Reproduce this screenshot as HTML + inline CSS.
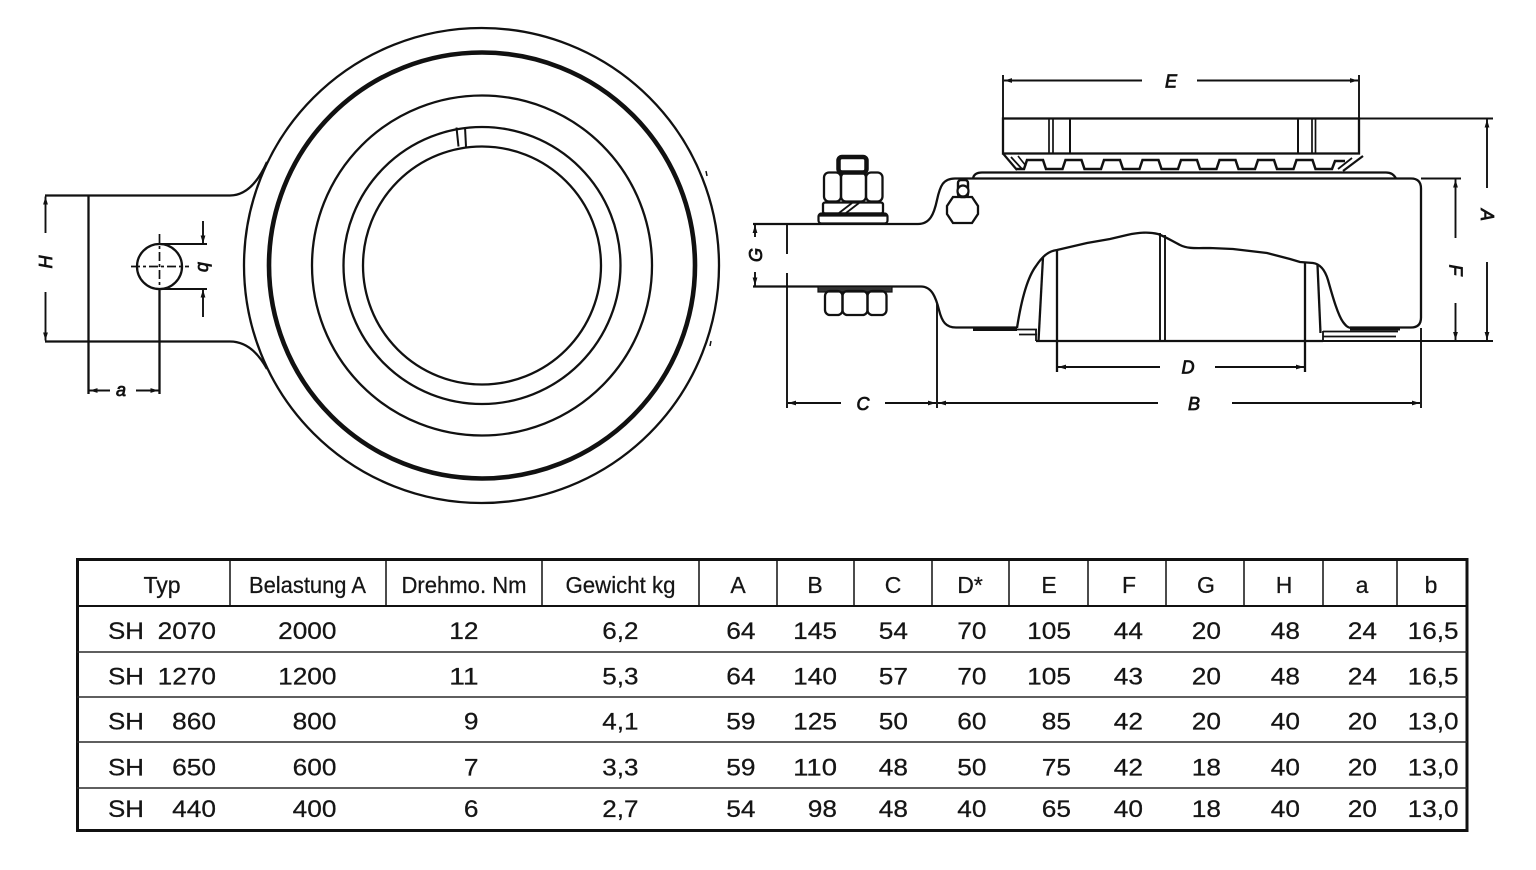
<!DOCTYPE html>
<html>
<head>
<meta charset="utf-8">
<style>
  html,body{margin:0;padding:0;background:#fff;}
  svg{display:block;}
  .dl{font-family:"Liberation Sans",Arial,sans-serif;font-style:italic;font-size:18px;fill:#111;stroke:#111;stroke-width:0.8;}
  .tb{font-family:"Liberation Sans",Arial,sans-serif;fill:#151515;stroke:#151515;stroke-width:0.25;}
</style>
</head>
<body>
<svg width="1536" height="870" viewBox="0 0 1536 870" xmlns="http://www.w3.org/2000/svg">
  <defs>
    <marker id="ar" markerUnits="userSpaceOnUse" markerWidth="8" markerHeight="6" viewBox="0 0 8 6" refX="8" refY="3" orient="auto">
      <path d="M0,0.6 L8,3 L0,5.4 z" fill="#111"/>
    </marker>
  </defs>
  <rect x="0" y="0" width="1536" height="870" fill="#fff"/>

  <!-- ================= FRONT VIEW ================= -->
  <g stroke="#111" fill="none" stroke-width="2.3">
    <circle cx="481.5" cy="265.5" r="237.5"/>
    <circle cx="482" cy="265.5" r="213" stroke-width="4.6"/>
    <circle cx="482" cy="265.5" r="170"/>
    <circle cx="482" cy="265.5" r="138.5"/>
    <circle cx="482" cy="265.5" r="119"/>
    <!-- slot -->
    <line x1="456.5" y1="127.5" x2="458.5" y2="146.5" stroke-width="2"/>
    <line x1="465" y1="127.2" x2="466" y2="146.6" stroke-width="2"/>
    <!-- small ticks -->
    <line x1="706" y1="171" x2="707" y2="176" stroke-width="1.5"/>
    <line x1="711" y1="341" x2="710" y2="346" stroke-width="1.5"/>

    <!-- lug -->
    <path d="M45,195.5 L230,195.5 Q252,195.5 267,162"/>
    <path d="M45,341.5 L230,341.5 Q252,341.5 267,369"/>
    <line x1="88.5" y1="195.5" x2="88.5" y2="394"/>

    <!-- hole -->
    <circle cx="159.5" cy="266.5" r="22.5"/>
    <line x1="131" y1="266.5" x2="189" y2="266.5" stroke-width="1.7" stroke-dasharray="9,3,3,3"/>
    <line x1="159.5" y1="234" x2="159.5" y2="289" stroke-width="1.7" stroke-dasharray="9,3,3,3"/>
    <line x1="159.5" y1="289" x2="159.5" y2="394"/>

    <!-- b extension lines -->
    <line x1="159.5" y1="244" x2="207" y2="244" stroke-width="2"/>
    <line x1="159.5" y1="289" x2="207" y2="289" stroke-width="2"/>
  </g>
  <g stroke="#111" fill="none" stroke-width="1.9">
    <!-- H dim -->
    <line x1="45.5" y1="233" x2="45.5" y2="196.5" marker-end="url(#ar)"/>
    <line x1="45.5" y1="292" x2="45.5" y2="340.5" marker-end="url(#ar)"/>
    <!-- b dim -->
    <line x1="203" y1="221" x2="203" y2="243.5" marker-end="url(#ar)"/>
    <line x1="203" y1="317" x2="203" y2="289.5" marker-end="url(#ar)"/>
    <!-- a dim -->
    <line x1="110" y1="390.5" x2="89.5" y2="390.5" marker-end="url(#ar)"/>
    <line x1="136" y1="390.5" x2="158.5" y2="390.5" marker-end="url(#ar)"/>
  </g>
  <text class="dl" transform="translate(46,262) rotate(-90)" text-anchor="middle" dy="6" font-size="17">H</text>
  <text class="dl" transform="translate(203,267) rotate(90)" text-anchor="middle" dy="5" font-size="16">b</text>
  <text class="dl" x="121" y="396" text-anchor="middle" font-size="16">a</text>

  <!-- ================= SIDE VIEW ================= -->
  <g stroke="#111" fill="none" stroke-width="2.3">
    <!-- top bearing ring -->
    <rect x="1003" y="118.5" width="356" height="35"/>
    <line x1="1049" y1="118.5" x2="1049" y2="153.5" stroke-width="1.7"/>
    <line x1="1053" y1="118.5" x2="1053" y2="153.5" stroke-width="1.7"/>
    <line x1="1070" y1="118.5" x2="1070" y2="153.5" stroke-width="2"/>
    <line x1="1298" y1="118.5" x2="1298" y2="153.5" stroke-width="2"/>
    <line x1="1312" y1="118.5" x2="1312" y2="153.5" stroke-width="1.7"/>
    <line x1="1315.5" y1="118.5" x2="1315.5" y2="153.5" stroke-width="1.7"/>
    <!-- E extension -->
    <line x1="1003" y1="75" x2="1003" y2="118.5" stroke-width="1.9"/>
    <line x1="1359" y1="75" x2="1359" y2="118.5" stroke-width="1.9"/>

    <!-- teeth -->
    <path stroke-width="2.5" d="M1016,169 L1024,169 L1027,160 L1043,160 L1046,169 L1062.5,169 L1065.5,160 L1081.5,160 L1084.5,169 L1101,169 L1104,160 L1120,160 L1123,169 L1139.5,169 L1142.5,160 L1158.5,160 L1161.5,169 L1178,169 L1181,160 L1197,160 L1200,169 L1216.5,169 L1219.5,160 L1235.5,160 L1238.5,169 L1255,169 L1258,160 L1274,160 L1277,169 L1293.5,169 L1296.5,160 L1312.5,160 L1315.5,169 L1332,169 L1335,161 L1345,161"/>
    <!-- chamfers -->
    <path d="M1003,153.5 L1017,170" stroke-width="2.2"/>
    <path d="M1011,157 L1022,169" stroke-width="1.8"/>
    <path d="M1018,156 L1026,166" stroke-width="1.6"/>
    <path d="M1363,156 L1343,171" stroke-width="2.2"/>
    <path d="M1352,158 L1338,169" stroke-width="1.8"/>

    <!-- flange plate under ring -->
    <path d="M973,178.5 Q974,172.5 982,172.5 L1386,172.5 Q1393,172.5 1396,178.5"/>

    <!-- body -->
    <path d="M753,224 L918,224 C930,224 934,214 937,200 C940,186 943,178.5 955,178.5 L1411,178.5 Q1421,178.5 1421,188.5 L1421,317.5 Q1421,327.5 1411,327.5 L1350,327.5"/>
    <path d="M753,286.5 L921,286.5 C932,286.5 936,298 939,310 C942,322 946,327.5 956,327.5 L1017,327.5"/>
    <rect x="973" y="327.5" width="44" height="3.5" fill="#111" stroke="none"/>
    <rect x="1350" y="327.5" width="50" height="3" fill="#111" stroke="none"/>
    <!-- left small flange under cup -->
    <path d="M1017,329.5 L1037,329.5 M1019,334.5 L1037,334.5 M1036,329 L1036,341" stroke-width="1.8"/>
    <!-- right small flange -->
    <path d="M1323,331.5 L1398,331.5 M1323,336.5 L1396,336.5 M1323,331 L1323,341" stroke-width="1.8"/>

    <!-- cup / housing cutout -->
    <path d="M1017,328 C1021,302 1027,278 1036,266 C1042,257 1048,251 1057,250 L1087,243 L1110,239 L1127,235 C1140,232 1150,232 1158,234 C1166,237 1172,241 1180,245 C1188,249 1196,248 1210,248 L1233,249 L1267,253 L1290,259 L1300,262 L1313,263 C1320,264 1325,270 1328,280 C1333,298 1338,315 1343,322 C1346,326 1348,328 1352,328"/>
    <line x1="1043" y1="257" x2="1038.5" y2="341"/>
    <line x1="1057" y1="250" x2="1057" y2="372"/>
    <line x1="1160" y1="233" x2="1160" y2="341" stroke-width="1.9"/>
    <line x1="1165" y1="235" x2="1165" y2="341" stroke-width="1.9"/>
    <line x1="1305" y1="262" x2="1305" y2="372"/>
    <line x1="1317.5" y1="265" x2="1320.5" y2="333"/>
    <line x1="1036" y1="341" x2="1323" y2="341"/>

    <!-- top bolt/nut -->
    <rect x="838.5" y="157" width="28" height="15.5" rx="3.5" stroke-width="4.5"/>
    <rect x="824" y="172.5" width="17" height="29" rx="5"/>
    <rect x="841" y="172.5" width="25" height="29" rx="5"/>
    <rect x="866" y="172.5" width="16.5" height="29" rx="5"/>
    <rect x="823" y="202.5" width="60" height="11" rx="2"/>
    <path d="M839,213 L852,203 M846,213 L859,203" stroke-width="1.8"/>
    <rect x="818.5" y="213.5" width="69" height="10" rx="3" stroke-width="2.2"/>
    <line x1="819" y1="215" x2="887" y2="215" stroke-width="3.2"/>

    <!-- bottom nut -->
    <rect x="818" y="286.5" width="74" height="5.5" fill="#333" stroke-width="1.2"/>
    <rect x="825" y="291" width="17.5" height="24" rx="5"/>
    <rect x="842.5" y="291" width="25" height="24" rx="5"/>
    <rect x="867.5" y="291" width="19" height="24" rx="5"/>

    <!-- grease nipple -->
    <rect x="958" y="180" width="10" height="17" rx="3" stroke-width="2.4"/>
    <circle cx="963" cy="191" r="5.5" stroke-width="2.2" fill="#fff"/>
    <path d="M953,197 L972,197 L978,206 L978,214 L972,223 L953,223 L947,214 L947,206 Z"/>
  </g>

  <!-- side view dimensions -->
  <g stroke="#111" fill="none" stroke-width="1.9">
    <!-- E -->
    <line x1="1142" y1="80.5" x2="1004" y2="80.5" marker-end="url(#ar)"/>
    <line x1="1197" y1="80.5" x2="1358" y2="80.5" marker-end="url(#ar)"/>
    <!-- A -->
    <line x1="1359" y1="118.5" x2="1493" y2="118.5"/>
    <line x1="1323" y1="341" x2="1493" y2="341"/>
    <line x1="1487" y1="188" x2="1487" y2="119.5" marker-end="url(#ar)"/>
    <line x1="1487" y1="262" x2="1487" y2="340" marker-end="url(#ar)"/>
    <!-- F -->
    <line x1="1421" y1="178.5" x2="1461" y2="178.5"/>
    <line x1="1455.5" y1="238" x2="1455.5" y2="179.5" marker-end="url(#ar)"/>
    <line x1="1455.5" y1="303" x2="1455.5" y2="340" marker-end="url(#ar)"/>
    <!-- D -->
    <line x1="1160" y1="367" x2="1058" y2="367" marker-end="url(#ar)"/>
    <line x1="1215" y1="367" x2="1304" y2="367" marker-end="url(#ar)"/>
    <!-- C / B -->
    <line x1="787" y1="224" x2="787" y2="254"/>
    <line x1="787" y1="273" x2="787" y2="408"/>
    <line x1="937" y1="304" x2="937" y2="408"/>
    <line x1="1421" y1="328" x2="1421" y2="408"/>
    <line x1="841" y1="403" x2="788" y2="403" marker-end="url(#ar)"/>
    <line x1="885" y1="403" x2="936" y2="403" marker-end="url(#ar)"/>
    <line x1="1158" y1="403" x2="938" y2="403" marker-end="url(#ar)"/>
    <line x1="1232" y1="403" x2="1420" y2="403" marker-end="url(#ar)"/>
    <!-- G -->
    <line x1="755" y1="237" x2="755" y2="225" marker-end="url(#ar)"/>
    <line x1="755" y1="272" x2="755" y2="285.5" marker-end="url(#ar)"/>
  </g>
  <text class="dl" x="1171" y="87.5" text-anchor="middle">E</text>
  <text class="dl" x="1188" y="373.5" text-anchor="middle">D</text>
  <text class="dl" x="1194" y="410" text-anchor="middle">B</text>
  <text class="dl" x="863" y="410" text-anchor="middle">C</text>
  <text class="dl" transform="translate(1487,215) rotate(90)" text-anchor="middle" dy="6">A</text>
  <text class="dl" transform="translate(1455.5,270) rotate(90)" text-anchor="middle" dy="6">F</text>
  <text class="dl" transform="translate(756,255) rotate(-90)" text-anchor="middle" dy="6" font-size="16">G</text>

  <!-- ================= TABLE ================= -->
  <g stroke="#111" fill="none">
    <rect x="77.5" y="559.5" width="1389.5" height="271" stroke-width="3"/>
    <line x1="77" y1="606" x2="1467" y2="606" stroke-width="2"/>
    <line x1="77" y1="652" x2="1467" y2="652" stroke-width="1.6" stroke="#2a2a2a"/>
    <line x1="77" y1="697" x2="1467" y2="697" stroke-width="1.6" stroke="#2a2a2a"/>
    <line x1="77" y1="742" x2="1467" y2="742" stroke-width="1.6" stroke="#2a2a2a"/>
    <line x1="77" y1="788" x2="1467" y2="788" stroke-width="1.6" stroke="#2a2a2a"/>
    <g stroke-width="1.5">
      <line x1="230" y1="560" x2="230" y2="606"/>
      <line x1="386" y1="560" x2="386" y2="606"/>
      <line x1="542" y1="560" x2="542" y2="606"/>
      <line x1="699" y1="560" x2="699" y2="606"/>
      <line x1="777" y1="560" x2="777" y2="606"/>
      <line x1="854" y1="560" x2="854" y2="606"/>
      <line x1="932" y1="560" x2="932" y2="606"/>
      <line x1="1009" y1="560" x2="1009" y2="606"/>
      <line x1="1088" y1="560" x2="1088" y2="606"/>
      <line x1="1166" y1="560" x2="1166" y2="606"/>
      <line x1="1244" y1="560" x2="1244" y2="606"/>
      <line x1="1323" y1="560" x2="1323" y2="606"/>
      <line x1="1397" y1="560" x2="1397" y2="606"/>
    </g>
  </g>

  <g class="tb" font-size="23" text-anchor="middle">
    <text x="162" y="593">Typ</text>
    <text x="307.5" y="593" textLength="117" lengthAdjust="spacingAndGlyphs">Belastung A</text>
    <text x="464" y="593" textLength="125" lengthAdjust="spacingAndGlyphs">Drehmo. Nm</text>
    <text x="620.5" y="593" textLength="110" lengthAdjust="spacingAndGlyphs">Gewicht kg</text>
    <text x="738" y="593">A</text>
    <text x="815" y="593">B</text>
    <text x="893" y="593">C</text>
    <text x="970" y="593">D*</text>
    <text x="1049" y="593">E</text>
    <text x="1129" y="593">F</text>
    <text x="1206" y="593">G</text>
    <text x="1284" y="593">H</text>
    <text x="1362" y="593">a</text>
    <text x="1431" y="593">b</text>
  </g>

  <g class="tb" font-size="24">
    <text x="108" y="639" textLength="36" lengthAdjust="spacingAndGlyphs">SH</text>
    <text x="108" y="684.5" textLength="36" lengthAdjust="spacingAndGlyphs">SH</text>
    <text x="108" y="729.5" textLength="36" lengthAdjust="spacingAndGlyphs">SH</text>
    <text x="108" y="775.5" textLength="36" lengthAdjust="spacingAndGlyphs">SH</text>
    <text x="108" y="817" textLength="36" lengthAdjust="spacingAndGlyphs">SH</text>
  </g>

  <g class="tb" font-size="24" text-anchor="end">
    <!-- Row 1 -->
    <text x="216" y="639" textLength="58.4" lengthAdjust="spacingAndGlyphs">2070</text>
    <text x="336.5" y="639" textLength="58.4" lengthAdjust="spacingAndGlyphs">2000</text>
    <text x="478.5" y="639" textLength="29.2" lengthAdjust="spacingAndGlyphs">12</text>
    <text x="638.5" y="639" textLength="36.2" lengthAdjust="spacingAndGlyphs">6,2</text>
    <text x="755.5" y="639" textLength="29.2" lengthAdjust="spacingAndGlyphs">64</text>
    <text x="837" y="639" textLength="43.8" lengthAdjust="spacingAndGlyphs">145</text>
    <text x="908" y="639" textLength="29.2" lengthAdjust="spacingAndGlyphs">54</text>
    <text x="986.5" y="639" textLength="29.2" lengthAdjust="spacingAndGlyphs">70</text>
    <text x="1071" y="639" textLength="43.8" lengthAdjust="spacingAndGlyphs">105</text>
    <text x="1143" y="639" textLength="29.2" lengthAdjust="spacingAndGlyphs">44</text>
    <text x="1221" y="639" textLength="29.2" lengthAdjust="spacingAndGlyphs">20</text>
    <text x="1300" y="639" textLength="29.2" lengthAdjust="spacingAndGlyphs">48</text>
    <text x="1377" y="639" textLength="29.2" lengthAdjust="spacingAndGlyphs">24</text>
    <text x="1458.5" y="639" textLength="50.8" lengthAdjust="spacingAndGlyphs">16,5</text>

    <!-- Row 2 -->
    <text x="216" y="684.5" textLength="58.4" lengthAdjust="spacingAndGlyphs">1270</text>
    <text x="336.5" y="684.5" textLength="58.4" lengthAdjust="spacingAndGlyphs">1200</text>
    <text x="478.5" y="684.5" textLength="29.2" lengthAdjust="spacingAndGlyphs">11</text>
    <text x="638.5" y="684.5" textLength="36.2" lengthAdjust="spacingAndGlyphs">5,3</text>
    <text x="755.5" y="684.5" textLength="29.2" lengthAdjust="spacingAndGlyphs">64</text>
    <text x="837" y="684.5" textLength="43.8" lengthAdjust="spacingAndGlyphs">140</text>
    <text x="908" y="684.5" textLength="29.2" lengthAdjust="spacingAndGlyphs">57</text>
    <text x="986.5" y="684.5" textLength="29.2" lengthAdjust="spacingAndGlyphs">70</text>
    <text x="1071" y="684.5" textLength="43.8" lengthAdjust="spacingAndGlyphs">105</text>
    <text x="1143" y="684.5" textLength="29.2" lengthAdjust="spacingAndGlyphs">43</text>
    <text x="1221" y="684.5" textLength="29.2" lengthAdjust="spacingAndGlyphs">20</text>
    <text x="1300" y="684.5" textLength="29.2" lengthAdjust="spacingAndGlyphs">48</text>
    <text x="1377" y="684.5" textLength="29.2" lengthAdjust="spacingAndGlyphs">24</text>
    <text x="1458.5" y="684.5" textLength="50.8" lengthAdjust="spacingAndGlyphs">16,5</text>

    <!-- Row 3 -->
    <text x="216" y="729.5" textLength="43.8" lengthAdjust="spacingAndGlyphs">860</text>
    <text x="336.5" y="729.5" textLength="43.8" lengthAdjust="spacingAndGlyphs">800</text>
    <text x="478.5" y="729.5" textLength="14.6" lengthAdjust="spacingAndGlyphs">9</text>
    <text x="638.5" y="729.5" textLength="36.2" lengthAdjust="spacingAndGlyphs">4,1</text>
    <text x="755.5" y="729.5" textLength="29.2" lengthAdjust="spacingAndGlyphs">59</text>
    <text x="837" y="729.5" textLength="43.8" lengthAdjust="spacingAndGlyphs">125</text>
    <text x="908" y="729.5" textLength="29.2" lengthAdjust="spacingAndGlyphs">50</text>
    <text x="986.5" y="729.5" textLength="29.2" lengthAdjust="spacingAndGlyphs">60</text>
    <text x="1071" y="729.5" textLength="29.2" lengthAdjust="spacingAndGlyphs">85</text>
    <text x="1143" y="729.5" textLength="29.2" lengthAdjust="spacingAndGlyphs">42</text>
    <text x="1221" y="729.5" textLength="29.2" lengthAdjust="spacingAndGlyphs">20</text>
    <text x="1300" y="729.5" textLength="29.2" lengthAdjust="spacingAndGlyphs">40</text>
    <text x="1377" y="729.5" textLength="29.2" lengthAdjust="spacingAndGlyphs">20</text>
    <text x="1458.5" y="729.5" textLength="50.8" lengthAdjust="spacingAndGlyphs">13,0</text>

    <!-- Row 4 -->
    <text x="216" y="775.5" textLength="43.8" lengthAdjust="spacingAndGlyphs">650</text>
    <text x="336.5" y="775.5" textLength="43.8" lengthAdjust="spacingAndGlyphs">600</text>
    <text x="478.5" y="775.5" textLength="14.6" lengthAdjust="spacingAndGlyphs">7</text>
    <text x="638.5" y="775.5" textLength="36.2" lengthAdjust="spacingAndGlyphs">3,3</text>
    <text x="755.5" y="775.5" textLength="29.2" lengthAdjust="spacingAndGlyphs">59</text>
    <text x="837" y="775.5" textLength="43.8" lengthAdjust="spacingAndGlyphs">110</text>
    <text x="908" y="775.5" textLength="29.2" lengthAdjust="spacingAndGlyphs">48</text>
    <text x="986.5" y="775.5" textLength="29.2" lengthAdjust="spacingAndGlyphs">50</text>
    <text x="1071" y="775.5" textLength="29.2" lengthAdjust="spacingAndGlyphs">75</text>
    <text x="1143" y="775.5" textLength="29.2" lengthAdjust="spacingAndGlyphs">42</text>
    <text x="1221" y="775.5" textLength="29.2" lengthAdjust="spacingAndGlyphs">18</text>
    <text x="1300" y="775.5" textLength="29.2" lengthAdjust="spacingAndGlyphs">40</text>
    <text x="1377" y="775.5" textLength="29.2" lengthAdjust="spacingAndGlyphs">20</text>
    <text x="1458.5" y="775.5" textLength="50.8" lengthAdjust="spacingAndGlyphs">13,0</text>

    <!-- Row 5 -->
    <text x="216" y="817" textLength="43.8" lengthAdjust="spacingAndGlyphs">440</text>
    <text x="336.5" y="817" textLength="43.8" lengthAdjust="spacingAndGlyphs">400</text>
    <text x="478.5" y="817" textLength="14.6" lengthAdjust="spacingAndGlyphs">6</text>
    <text x="638.5" y="817" textLength="36.2" lengthAdjust="spacingAndGlyphs">2,7</text>
    <text x="755.5" y="817" textLength="29.2" lengthAdjust="spacingAndGlyphs">54</text>
    <text x="837" y="817" textLength="29.2" lengthAdjust="spacingAndGlyphs">98</text>
    <text x="908" y="817" textLength="29.2" lengthAdjust="spacingAndGlyphs">48</text>
    <text x="986.5" y="817" textLength="29.2" lengthAdjust="spacingAndGlyphs">40</text>
    <text x="1071" y="817" textLength="29.2" lengthAdjust="spacingAndGlyphs">65</text>
    <text x="1143" y="817" textLength="29.2" lengthAdjust="spacingAndGlyphs">40</text>
    <text x="1221" y="817" textLength="29.2" lengthAdjust="spacingAndGlyphs">18</text>
    <text x="1300" y="817" textLength="29.2" lengthAdjust="spacingAndGlyphs">40</text>
    <text x="1377" y="817" textLength="29.2" lengthAdjust="spacingAndGlyphs">20</text>
    <text x="1458.5" y="817" textLength="50.8" lengthAdjust="spacingAndGlyphs">13,0</text>
  </g>
</svg>
</body>
</html>
